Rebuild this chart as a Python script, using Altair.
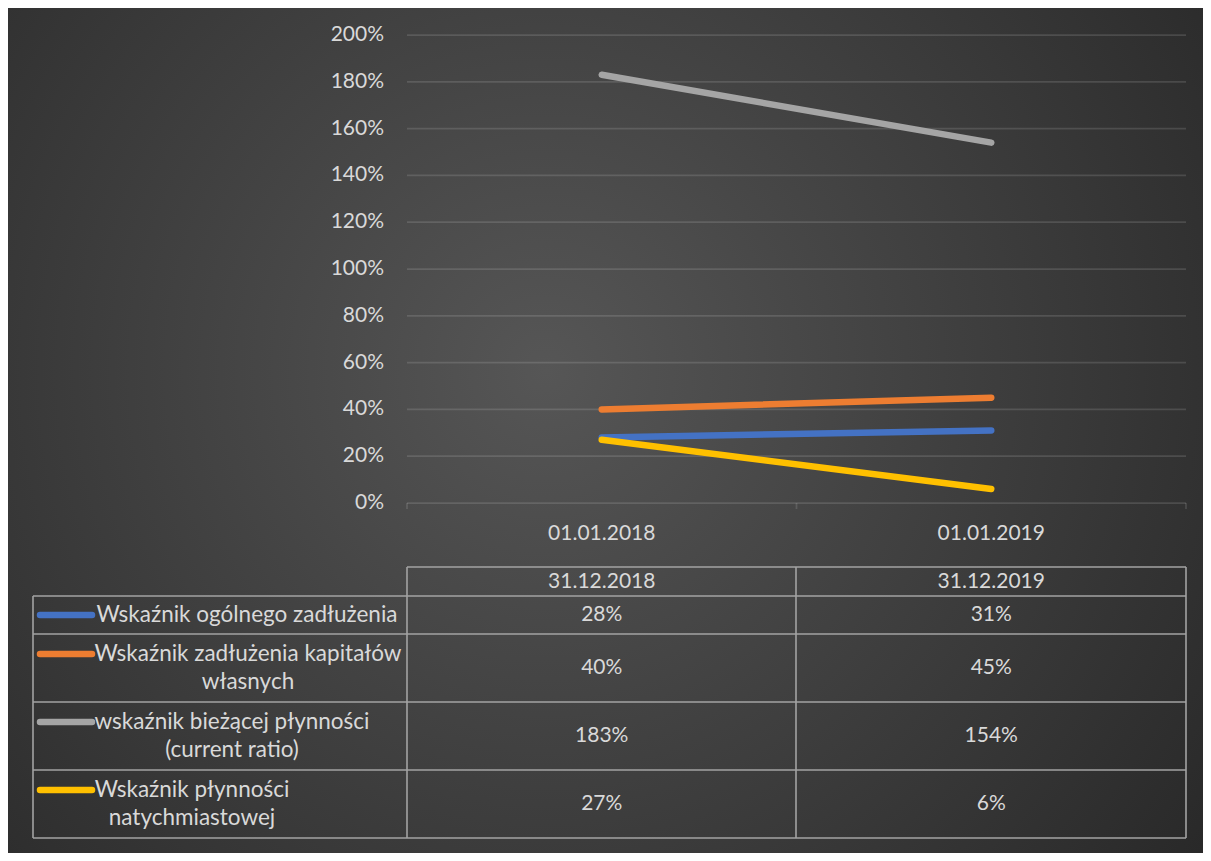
import altair as alt
import pandas as pd

# ---------------- data ----------------
DATES = ["01.01.2018", "01.01.2019"]
TABLE_DATES = ["31.12.2018", "31.12.2019"]
SERIES = [
    "Wskaźnik ogólnego zadłużenia",
    "Wskaźnik zadłużenia kapitałów własnych",
    "wskaźnik bieżącej płynności (current ratio)",
    "Wskaźnik płynności natychmiastowej",
]
SERIES_LINES = [
    ["Wskaźnik ogólnego zadłużenia"],
    ["Wskaźnik zadłużenia kapitałów", "własnych"],
    ["wskaźnik bieżącej płynności", "(current ratio)"],
    ["Wskaźnik płynności", "natychmiastowej"],
]
VAL_OGOLNE = [0.28, 0.31]
VAL_KAPITAL = [0.40, 0.45]
VAL_BIEZACA = [1.83, 1.54]
VAL_NATYCH = [0.27, 0.06]
VALUES = [VAL_OGOLNE, VAL_KAPITAL, VAL_BIEZACA, VAL_NATYCH]
Y_TICKS = [0.0, 0.2, 0.4, 0.6, 0.8, 1.0, 1.2, 1.4, 1.6, 1.8, 2.0]
Y_TICK_LABELS = ["0%", "20%", "40%", "60%", "80%", "100%", "120%", "140%", "160%", "180%", "200%"]

# ---------------- style / layout ----------------
COLORS = ["#4472C4", "#ED7D31", "#A5A5A5", "#FFC000"]
TEXT = "#d9d9d9"
FONT = "Lato"
FS = 21
FS_LAB = 22.5
W, H = 1195, 845
PX0, PX1 = 399, 1178          # plot area x
PY0, PY1 = 495, 27            # y of 0% and 200%
COL_X = [25, 399, 788, 1178]  # table column borders
ROW_Y = [559, 588, 626, 694, 762, 830]  # table row borders
LABEL_CX = [239, 240, 224, 184]
LINE_GAP = 28
SW_X0, SW_X1 = 32, 84

xs = alt.Scale(type="point", domain=DATES, range=[PX0, PX1], padding=0.5)
ys = alt.Scale(domain=[0, 2], range=[PY0, PY1])
cs = alt.Scale(domain=SERIES, range=COLORS)

# ---------------- tables ----------------
line_rows = []
for s, vals in zip(SERIES, VALUES):
    for d, v in zip(DATES, vals):
        line_rows.append({"series": s, "date": d, "value": v})
df_lines = pd.DataFrame(line_rows)

df_ticks = pd.DataFrame({"v": Y_TICKS, "label": Y_TICK_LABELS})

row_centers = [(ROW_Y[i + 1] + ROW_Y[i + 2]) / 2 for i in range(4)]
cell_rows = []
for i, (s, vals) in enumerate(zip(SERIES, VALUES)):
    for d, v in zip(DATES, vals):
        cell_rows.append({"date": d, "y": row_centers[i], "text": f"{round(v * 100)}%"})
df_cells = pd.DataFrame(cell_rows)
df_head = pd.DataFrame({"date": DATES, "text": TABLE_DATES})

lab_rows, sw_rows = [], []
for i, (s, lines) in enumerate(zip(SERIES, SERIES_LINES)):
    n = len(lines)
    first_y = row_centers[i] - (n - 1) * LINE_GAP / 2
    for k, t in enumerate(lines):
        lab_rows.append({"x": LABEL_CX[i], "y": first_y + k * LINE_GAP, "text": t})
    sw_rows.append({"series": s, "x": SW_X0, "x2": SW_X1, "y": first_y})
df_labels = pd.DataFrame(lab_rows)
df_sw = pd.DataFrame(sw_rows)

border_rows = []
border_rows.append({"x": COL_X[1], "x2": COL_X[3], "y": ROW_Y[0], "y2": ROW_Y[0]})
for yy in ROW_Y[1:]:
    border_rows.append({"x": COL_X[0], "x2": COL_X[3], "y": yy, "y2": yy})
border_rows.append({"x": COL_X[0], "x2": COL_X[0], "y": ROW_Y[1], "y2": ROW_Y[-1]})
for xx in COL_X[1:]:
    border_rows.append({"x": xx, "x2": xx, "y": ROW_Y[0], "y2": ROW_Y[-1]})
df_border = pd.DataFrame(border_rows)

df_xticks = pd.DataFrame({"x": [PX0, (PX0 + PX1) / 2, PX1]})

# ---------------- layers ----------------
bg = alt.Chart(pd.DataFrame({"a": [0]})).mark_rect(
    fill=alt.RadialGradient(
        gradient="radial",
        stops=[alt.GradientStop(offset=0, color="#565656"),
               alt.GradientStop(offset=1, color="#292929")],
        x1=0.45, y1=0.45, r1=0, x2=0.45, y2=0.45, r2=0.68,
    )
).encode(x=alt.value(0), x2=alt.value(W), y=alt.value(0), y2=alt.value(H))

grid = alt.Chart(df_ticks).mark_rule(color="#ffffff", strokeOpacity=0.13, strokeWidth=1.75).encode(
    y=alt.Y("v:Q", scale=ys, axis=None), x=alt.value(PX0), x2=alt.value(PX1)
)

xticks = alt.Chart(df_xticks).mark_rule(color="#ffffff", strokeOpacity=0.13, strokeWidth=1.75).encode(
    x=alt.X("x:Q", scale=None, axis=None), y=alt.value(PY0), y2=alt.value(PY0 + 6)
)

lines = alt.Chart(df_lines).mark_line(strokeWidth=6.5, strokeCap="round").encode(
    x=alt.X("date:N", scale=xs, axis=None),
    y=alt.Y("value:Q", scale=ys, axis=None),
    color=alt.Color("series:N", scale=cs, legend=None),
)

ylabels = alt.Chart(df_ticks).mark_text(align="right", baseline="middle", font=FONT, fontSize=FS, color=TEXT).encode(
    y=alt.Y("v:Q", scale=ys, axis=None), x=alt.value(376), text="label:N"
)

xlabels = alt.Chart(pd.DataFrame({"date": DATES})).mark_text(
    align="center", baseline="middle", font=FONT, fontSize=FS, color=TEXT
).encode(x=alt.X("date:N", scale=xs, axis=None), y=alt.value(526), text="date:N")

borders = alt.Chart(df_border).mark_rule(color="#a3a3a3", strokeWidth=1.6).encode(
    x=alt.X("x:Q", scale=None, axis=None), x2="x2:Q",
    y=alt.Y("y:Q", scale=None, axis=None), y2="y2:Q",
)

head = alt.Chart(df_head).mark_text(align="center", baseline="middle", font=FONT, fontSize=FS, color=TEXT).encode(
    x=alt.X("date:N", scale=xs, axis=None), y=alt.value((ROW_Y[0] + ROW_Y[1]) / 2), text="text:N"
)

cells = alt.Chart(df_cells).mark_text(align="center", baseline="middle", font=FONT, fontSize=FS, color=TEXT).encode(
    x=alt.X("date:N", scale=xs, axis=None), y=alt.Y("y:Q", scale=None, axis=None), text="text:N"
)

swatches = alt.Chart(df_sw).mark_rule(strokeWidth=6.5, strokeCap="round").encode(
    x=alt.X("x:Q", scale=None, axis=None), x2="x2:Q",
    y=alt.Y("y:Q", scale=None, axis=None),
    color=alt.Color("series:N", scale=cs, legend=None),
)

labels = alt.Chart(df_labels).mark_text(align="center", baseline="middle", font=FONT, fontSize=FS_LAB, color=TEXT).encode(
    x=alt.X("x:Q", scale=None, axis=None), y=alt.Y("y:Q", scale=None, axis=None), text="text:N"
)

chart = alt.layer(
    bg, grid, xticks, lines, ylabels, xlabels, borders, head, cells, swatches, labels
).resolve_scale(x="independent", y="independent").properties(
    width=W, height=H, padding=0, autosize=alt.AutoSizeParams(type="none"),
    background="#2a2a2a",
).configure_view(stroke=None)

chart.save("out.html", embed_options={"renderer": "svg", "actions": False})
